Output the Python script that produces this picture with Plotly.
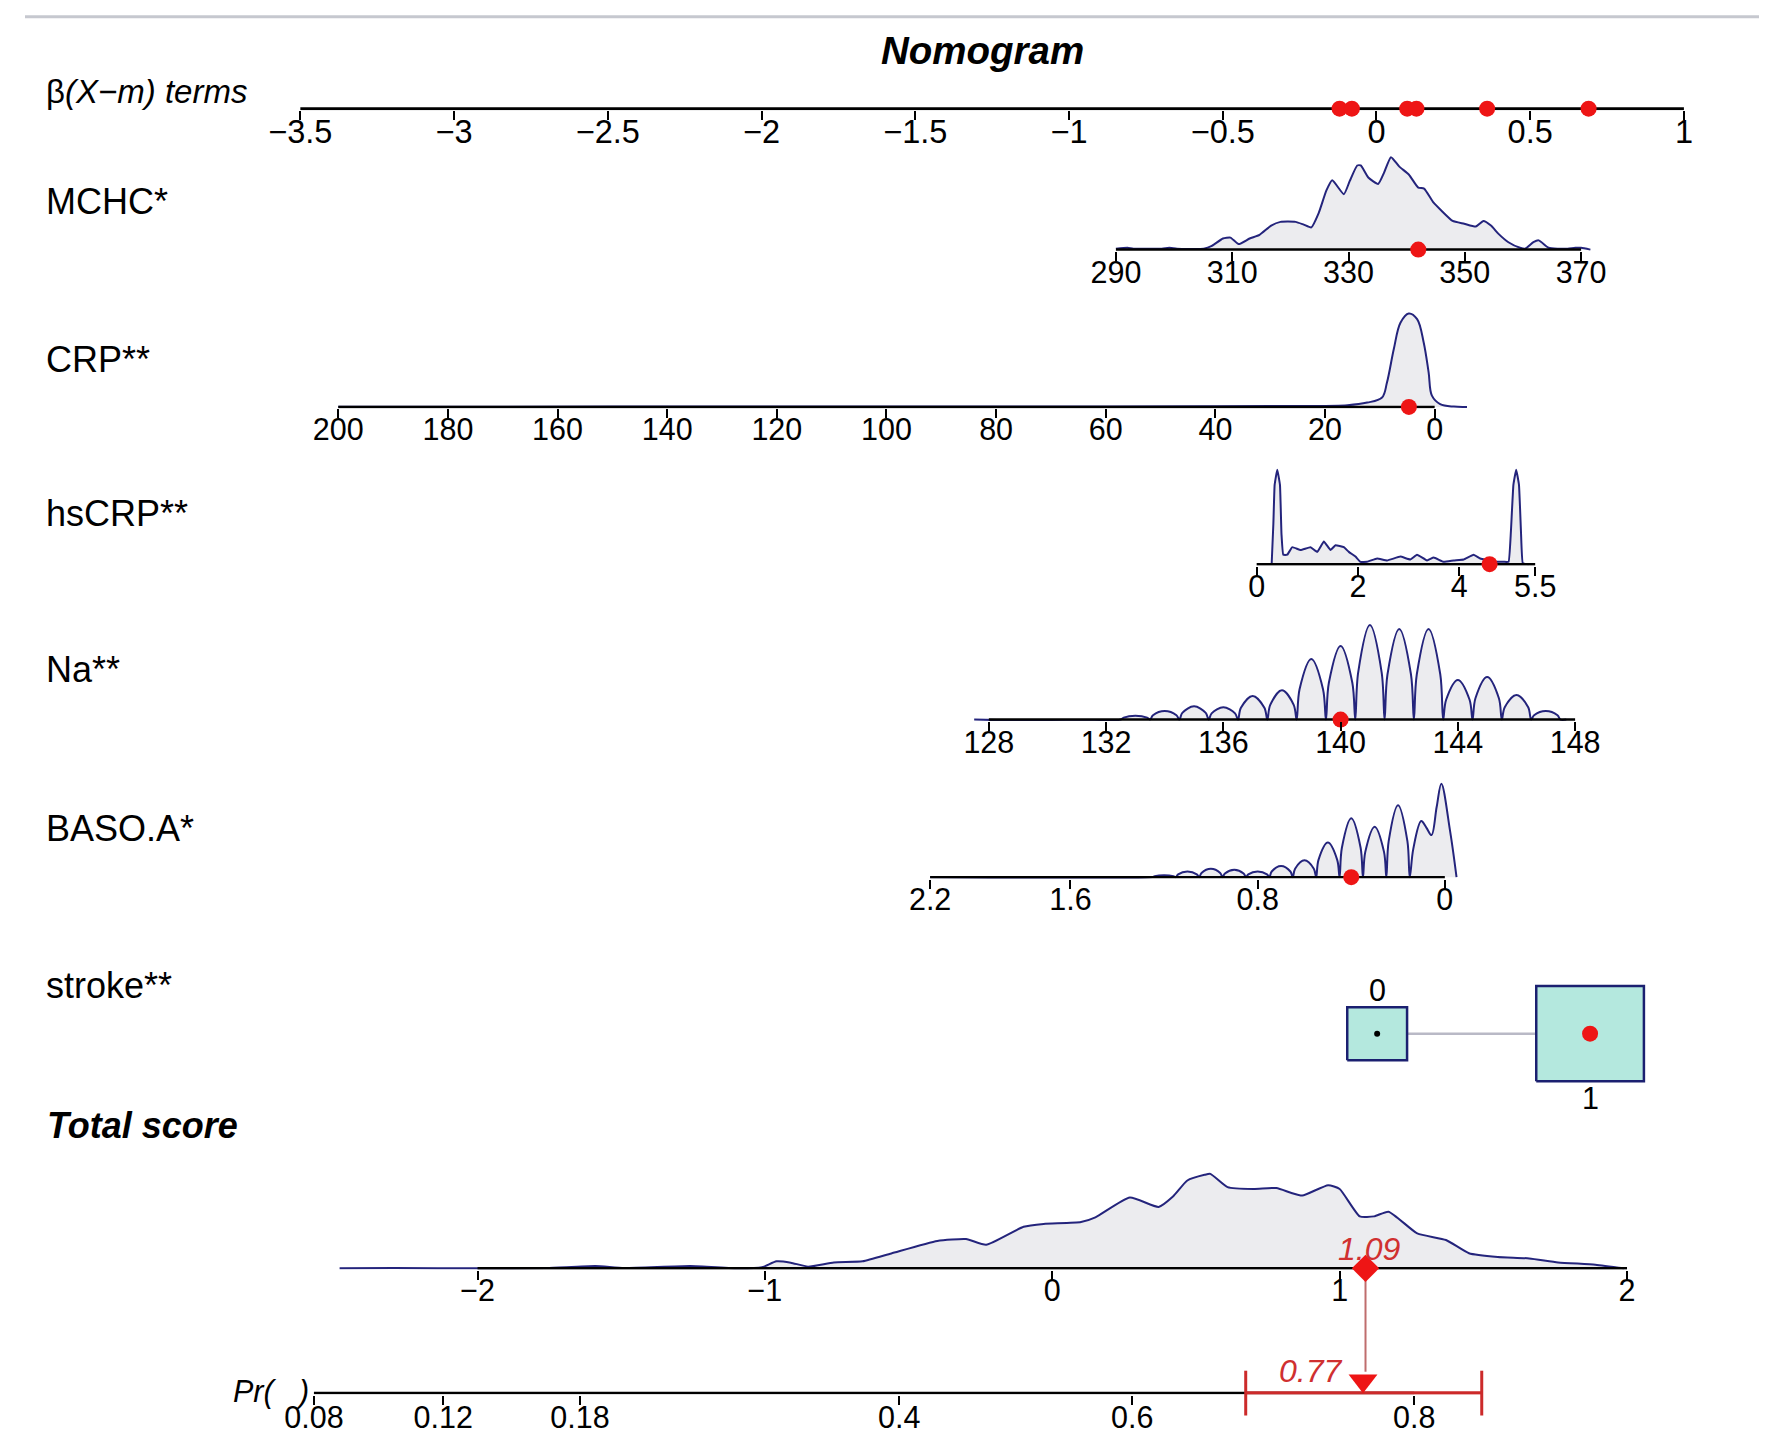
import math
import plotly.graph_objects as go

# ---------------- data ----------------
beta_ticks = [-3.5, -3, -2.5, -2, -1.5, -1, -0.5, 0, 0.5, 1]
beta_terms = [-0.12, -0.08, 0.10, 0.13, 0.36, 0.69]   # Na, BASO.A, CRP, MCHC, hsCRP, stroke

mchc_ticks = [290, 310, 330, 350, 370]
mchc_x = [290.0, 292.0, 293.0, 297.9, 299.2, 300.5, 305.1, 306.5, 308.4, 309.7, 311.1, 313.0,
          314.7, 316.7, 318.3, 320.9, 322.3, 323.6, 324.9, 326.2, 327.2, 329.2, 330.2, 331.5,
          332.1, 333.4, 335.1, 336.1, 337.3, 338.7, 340.4, 342.0, 343.0, 344.6, 346.0, 347.9,
          349.9, 351.9, 353.2, 354.5, 355.8, 357.5, 359.5, 360.4, 361.8, 362.7, 364.4, 366.0,
          367.7, 369.0, 370.0, 371.6]
mchc_d = [0.01, 0.02, 0.01, 0.01, 0.02, 0.01, 0.01, 0.04, 0.12, 0.13, 0.06, 0.12,
          0.16, 0.26, 0.30, 0.30, 0.27, 0.24, 0.40, 0.64, 0.75, 0.60, 0.74, 0.91,
          0.91, 0.78, 0.71, 0.83, 1.00, 0.90, 0.81, 0.67, 0.66, 0.51, 0.42, 0.31,
          0.28, 0.25, 0.31, 0.26, 0.17, 0.08, 0.02, 0.01, 0.08, 0.10, 0.02, 0.01,
          0.01, 0.02, 0.02, 0.0]
mchc_obs = 342

crp_ticks = [200, 180, 160, 140, 120, 100, 80, 60, 40, 20, 0]
crp_x = [200, 150, 100, 60, 40, 25, 15.9, 12.3, 9.6, 8.7, 7.45, 6.24, 4.73, 3.2, 2.0, 1.1,
         0.5, -1.0, -3.5, -5.9]
crp_d = [0.002, 0.003, 0.003, 0.004, 0.006, 0.01, 0.018, 0.046, 0.10, 0.26, 0.62, 0.90,
         1.0, 0.94, 0.69, 0.37, 0.12, 0.03, 0.003, 0.0]
crp_obs = 4.7

hscrp_ticks = [0, 2, 4, 5.5]
hscrp_x = [0.296, 0.33, 0.355, 0.407, 0.46, 0.49, 0.526, 0.604, 0.703, 0.867,
           1.064, 1.196, 1.327, 1.459, 1.557, 1.721, 1.82, 1.951, 2.05, 2.18,
           2.378, 2.576, 2.838, 3.035, 3.167, 3.364, 3.496, 3.693, 3.89, 4.087,
           4.284, 4.415, 4.678, 4.875, 4.974, 5.02, 5.07, 5.125, 5.18, 5.22,
           5.256, 5.368]
hscrp_d = [0.0, 0.43, 0.84, 1.0, 0.84, 0.32, 0.10, 0.10, 0.18, 0.15,
           0.18, 0.13, 0.24, 0.15, 0.20, 0.18, 0.13, 0.08, 0.025, 0.025,
           0.06, 0.04, 0.08, 0.05, 0.10, 0.04, 0.07, 0.025, 0.04, 0.05,
           0.10, 0.06, 0.025, 0.025, 0.025, 0.34, 0.84, 1.0, 0.84, 0.34,
           0.01, 0.0]
hscrp_obs = 4.6

na_ticks = [128, 132, 136, 140, 144, 148]
na_levels = [133, 134, 135, 136, 137, 138, 139, 140, 141, 142, 143, 144, 145, 146, 147]
na_peaks = [0.04, 0.09, 0.14, 0.13, 0.25, 0.31, 0.64, 0.78, 1.0, 0.96, 0.96, 0.42, 0.45, 0.26, 0.09]
na_obs = 140

baso_ticks = [2.2, 1.6, 0.8, 0]
baso_head_x = [-0.05, -0.022, 0.015, 0.035, 0.057, 0.079, 0.101, 0.135, 0.15]
baso_head_d = [0.0, 0.5, 1.0, 0.75, 0.45, 0.53, 0.60, 0.30, 0.0]
baso_levels = [0.2, 0.3, 0.4, 0.5, 0.6, 0.7, 0.8, 0.9, 1.0, 1.1, 1.2]
baso_peaks = [0.77, 0.54, 0.63, 0.37, 0.18, 0.12, 0.06, 0.08, 0.09, 0.06, 0.02]
baso_obs = 0.40

stroke_levels = [0, 1]
stroke_freq = [0.236, 0.764]
stroke_obs = 1

total_ticks = [-2, -1, 0, 1, 2]
total_x = [-2.48, -2.29, -1.99, -1.76, -1.59, -1.49, -1.26, -1.09, -1.01, -0.96,
           -0.91, -0.85, -0.76, -0.66, -0.56, -0.40, -0.30, -0.23, -0.10, -0.03,
           0.10, 0.15, 0.27, 0.37, 0.42, 0.47, 0.53, 0.55, 0.61, 0.70,
           0.78, 0.83, 0.87, 0.96, 1.00, 1.07, 1.12, 1.17, 1.27, 1.37,
           1.45, 1.55, 1.66, 1.76, 1.89, 1.99]
total_d = [0.0, 0.003, 0.0, 0.003, 0.024, 0.003, 0.024, 0.0, 0.011, 0.074,
           0.06, 0.018, 0.063, 0.074, 0.158, 0.29, 0.31, 0.25, 0.44, 0.47,
           0.49, 0.54, 0.75, 0.65, 0.76, 0.93, 0.99, 1.0, 0.86, 0.84,
           0.85, 0.80, 0.77, 0.88, 0.84, 0.55, 0.55, 0.60, 0.37, 0.30,
           0.16, 0.12, 0.105, 0.063, 0.039, 0.0]
total_score = 1.09

pr_ticks = [0.08, 0.12, 0.18, 0.4, 0.6, 0.8]
pr_labels = ["0.08", "0.12", "0.18", "0.4", "0.6", "0.8"]
pr_shift = 0.127          # logit(Pr) = total score + shift
pr_est = 0.77
pr_ci = [0.69, 0.835]

row_labels = ["MCHC*", "CRP**", "hsCRP**", "Na**", "BASO.A*", "stroke**"]

# ---------------- style / layout constants ----------------
FONT = "Liberation Sans, Arial, Helvetica, sans-serif"
LINE = "#24247c"
FILL = "rgb(236,236,239)"
RED = "#ee1515"
TRED = "#d03030"
W, H = 1768, 1426
OFF = 8
TICKFS = 30.5
SOFF = -15
# page-to-picture calibration
CX, SX = 14.3, 0.9825
CY, SY = -1.6, 0.9833


def clamp(v):
    return min(1.0, max(0.0, v))


def px_x(X):
    return ((X - CX) / SX - OFF) / W


def px_y(Y):
    return 1 - ((Y - CY) / SY - OFF) / H


def xdom(cal, rng):
    (v1, X1), (v2, X2) = cal
    f = lambda v: X1 + (v - v1) * (X2 - X1) / (v2 - v1)
    return [clamp(px_x(f(rng[0]))), clamp(px_x(f(rng[1])))]


def ydom(bottom, top):
    return [clamp(px_y(bottom)), clamp(px_y(top))]


def logit(p):
    return math.log(p / (1 - p))


fig = go.Figure()
layout = {}
annotations = []
shapes = []

AX = dict(showgrid=False, zeroline=False, showline=False, ticks="outside", ticklen=9,
          tickwidth=2, tickcolor="black", fixedrange=True)


def add_axes(i, cal, rng, yd, yrng, tickvals=None, ticktext=None, xvisible=True,
             fsize=TICKFS, standoff=SOFF):
    xa = dict(AX, domain=xdom(cal, rng), range=list(rng), anchor=f"y{i}", visible=xvisible,
              tickfont=dict(family=FONT, size=fsize, color="black"), ticklabelstandoff=standoff)
    if tickvals is not None:
        xa["tickmode"] = "array"
        xa["tickvals"] = tickvals
        if ticktext is not None:
            xa["ticktext"] = ticktext
    ya = dict(domain=yd, range=list(yrng), visible=False, fixedrange=True, anchor=f"x{i}")
    layout["xaxis" if i == 1 else f"xaxis{i}"] = xa
    layout["yaxis" if i == 1 else f"yaxis{i}"] = ya


def density_row(i, axis_y, peak, cal, rng, ticks, xs, ds, obs, shape="spline", smooth=0.6):
    add_axes(i, cal, rng, ydom(axis_y + 1.5, axis_y - 1.1 * peak),
             [-1.5 / peak, 1.1], tickvals=ticks)
    ref = dict(xaxis=f"x{i}", yaxis=f"y{i}")
    line = dict(color=LINE, width=2, shape=shape)
    if shape == "spline":
        line["smoothing"] = smooth
    fig.add_trace(go.Scatter(x=xs, y=ds, mode="lines", fill="tozeroy", fillcolor=FILL,
                             line=line, hoverinfo="skip", **ref))
    fig.add_trace(go.Scatter(x=[ticks[0], ticks[-1]], y=[0, 0], mode="lines",
                             line=dict(color="black", width=2.5), hoverinfo="skip", **ref))
    if obs is not None:
        fig.add_trace(go.Scatter(x=[obs], y=[0], mode="markers", cliponaxis=False,
                                 marker=dict(color=RED, size=16), hoverinfo="skip", **ref))


# ---- row 1: beta terms axis
add_axes(1, ((-3.5, 298), (1, 1684)), (-3.55, 1.05), ydom(109, 88), [-1.5, 19.5],
         tickvals=beta_ticks, fsize=32.5, standoff=-16)
fig.add_trace(go.Scatter(x=[beta_ticks[0], beta_ticks[-1]], y=[0, 0], mode="lines",
                         line=dict(color="black", width=3), xaxis="x", yaxis="y", hoverinfo="skip"))
fig.add_trace(go.Scatter(x=beta_terms, y=[0] * len(beta_terms), mode="markers", cliponaxis=False,
                         marker=dict(color=RED, size=16), xaxis="x", yaxis="y", hoverinfo="skip"))

# ---- density rows
density_row(2, 249.3, 93, ((290, 1115), (370, 1581)), (288, 374), mchc_ticks,
            mchc_x, mchc_d, mchc_obs, smooth=0.5)
density_row(3, 407.5, 94, ((200, 336), (0, 1434.3)), (203, -8), crp_ticks,
            crp_x, crp_d, crp_obs, smooth=1.0)
density_row(4, 565.7, 95, ((0, 1256), (5.5, 1535)), (-0.1, 5.6), hscrp_ticks,
            hscrp_x, hscrp_d, hscrp_obs, smooth=0.3)

na_x, na_y = [127.5], [0.0]
for k, p in zip(na_levels, na_peaks):
    na_x += [k - 0.5, k - 0.4, k, k + 0.4]
    na_y += [0.0, 0.5 * p, p, 0.5 * p]
na_x += [na_levels[-1] + 0.5, 147.7]
na_y += [0.0, 0.0]
density_row(5, 722, 95, ((128, 987.7), (148, 1575)), (127.2, 148.3), na_ticks,
            na_x, na_y, na_obs, smooth=1.0)

baso_x, baso_y = list(baso_head_x), list(baso_head_d)
for k, p in zip(baso_levels, baso_peaks):
    baso_x += [k - 0.04, k, k + 0.04, k + 0.05]
    baso_y += [0.5 * p, p, 0.5 * p, 0.0]
baso_x += [2.2]
baso_y += [0.0]
density_row(6, 880.5, 94, ((0, 1444.5), (1.6, 1069.5)), (2.25, -0.08), baso_ticks,
            baso_x, baso_y, baso_obs, smooth=1.0)

# ---- row 7: stroke (boxes sized by frequency)
s_cal = ((0, 1376.7), (1, 1590))
s_ppu = 1590 - 1376.7
add_axes(7, s_cal, (-0.4, 1.4), ydom(1038 + 70, 1038 - 70), [-70, 70], xvisible=False)
BOX_W, BOX_H = 61.7, 54.8
hw = [BOX_W * math.sqrt(f) / s_ppu for f in stroke_freq]
hh = [BOX_H * math.sqrt(f) for f in stroke_freq]
fig.add_trace(go.Scatter(x=[stroke_levels[0] + hw[0], stroke_levels[1] - hw[1]], y=[0, 0],
                         mode="lines", line=dict(color="#b9b9c6", width=2.5),
                         xaxis="x7", yaxis="y7", hoverinfo="skip"))
for lv, a, b in zip(stroke_levels, hw, hh):
    fig.add_trace(go.Scatter(x=[lv - a, lv + a, lv + a, lv - a, lv - a], y=[-b, -b, b, b, -b],
                             mode="lines", fill="toself", fillcolor="#b4e8de",
                             line=dict(color="#1b2070", width=2.5),
                             xaxis="x7", yaxis="y7", hoverinfo="skip"))
fig.add_trace(go.Scatter(x=[stroke_levels[0]], y=[0], mode="markers",
                         marker=dict(color="black", size=6), xaxis="x7", yaxis="y7", hoverinfo="skip"))
fig.add_trace(go.Scatter(x=[stroke_obs], y=[0], mode="markers", cliponaxis=False,
                         marker=dict(color=RED, size=16), xaxis="x7", yaxis="y7", hoverinfo="skip"))
annotations.append(dict(x=stroke_levels[0], y=hh[0] + 17, xref="x7", yref="y7", text="0",
                        showarrow=False, xanchor="center", yanchor="middle",
                        font=dict(family=FONT, size=TICKFS, color="black")))
annotations.append(dict(x=stroke_levels[1], y=-hh[1] - 17, xref="x7", yref="y7", text="1",
                        showarrow=False, xanchor="center", yanchor="middle",
                        font=dict(family=FONT, size=TICKFS, color="black")))

# ---- row 8: total score
t_cal = ((-2, 475.5), (2, 1627))
t_rng = (-2.65, 2.05)
density_row(8, 1274, 95, t_cal, t_rng, total_ticks, total_x, total_d, None, smooth=0.5)
fig.add_trace(go.Scatter(x=[total_score], y=[0], mode="markers", cliponaxis=False,
                         marker=dict(color=RED, size=21, symbol="diamond"),
                         xaxis="x8", yaxis="y8", hoverinfo="skip"))
annotations.append(dict(x=total_score, y=0, xref="x8", yref="y8", text=f"<i>{total_score:.2f}</i>",
                        showarrow=False, xanchor="center", yanchor="middle", yshift=19, xshift=3,
                        font=dict(family=FONT, size=32, color=TRED)))

# ---- row 9: probability axis (logit scale aligned to total score)
pr_vals = [logit(p) - pr_shift for p in pr_ticks]
add_axes(9, t_cal, t_rng, ydom(1399.5 + 1.5, 1399.5 - 40), [-1.5, 40],
         tickvals=pr_vals, ticktext=pr_labels, standoff=-13)
fig.add_trace(go.Scatter(x=[pr_vals[0], pr_vals[-1]], y=[0, 0], mode="lines",
                         line=dict(color="black", width=2.5), xaxis="x9", yaxis="y9", hoverinfo="skip"))
ci_x = [logit(p) - pr_shift for p in pr_ci]
fig.add_trace(go.Scatter(x=ci_x, y=[0, 0], mode="lines+markers", cliponaxis=False,
                         line=dict(color="#cc2a2a", width=3.5),
                         marker=dict(symbol="line-ns", size=32, line=dict(color="#cc2a2a", width=3)),
                         xaxis="x9", yaxis="y9", hoverinfo="skip"))
est_x = logit(pr_est) - pr_shift
fig.add_trace(go.Scatter(x=[est_x], y=[12.5], mode="markers", cliponaxis=False,
                         marker=dict(color=RED, size=25, symbol="triangle-down"),
                         xaxis="x9", yaxis="y9", hoverinfo="skip"))
annotations.append(dict(x=est_x, y=22, xref="x9", yref="y9", text=f"<i>{pr_est:.2f}</i>",
                        showarrow=False, xanchor="right", yanchor="middle", xshift=-19,
                        font=dict(family=FONT, size=32, color=TRED)))
shapes.append(dict(type="line", xref="x8", yref="paper", x0=total_score, x1=total_score,
                   y0=px_y(1280), y1=px_y(1378), layer="below",
                   line=dict(color="rgba(170,60,60,0.75)", width=2)))

# ---- texts
annotations.append(dict(x=px_x(981), y=px_y(49), xref="paper", yref="paper",
                        text="<b><i>Nomogram</i></b>", showarrow=False,
                        xanchor="center", yanchor="middle",
                        font=dict(family=FONT, size=38.5, color="black")))
annotations.append(dict(x=px_x(41), y=px_y(90), xref="paper", yref="paper",
                        text="β<i>(X−m) terms</i>", showarrow=False,
                        xanchor="left", yanchor="middle",
                        font=dict(family=FONT, size=33, color="black")))
for lab, yc in zip(row_labels, [201, 360, 515, 672, 832, 990]):
    annotations.append(dict(x=px_x(41), y=px_y(yc), xref="paper", yref="paper", text=lab,
                            showarrow=False, xanchor="left", yanchor="middle",
                            font=dict(family=FONT, size=36, color="black")))
annotations.append(dict(x=px_x(42), y=px_y(1130), xref="paper", yref="paper",
                        text="<b><i>Total score</i></b>", showarrow=False,
                        xanchor="left", yanchor="middle",
                        font=dict(family=FONT, size=36, color="black")))
annotations.append(dict(x=px_x(229), y=px_y(1398), xref="paper", yref="paper",
                        text="<i>Pr(\u00a0\u00a0\u00a0)</i>", showarrow=False,
                        xanchor="left", yanchor="middle",
                        font=dict(family=FONT, size=30.5, color="black")))

shapes.append(dict(type="line", xref="paper", yref="paper", x0=0, x1=1,
                   y0=px_y(15), y1=px_y(15), line=dict(color="#c6c8cf", width=3)))

fig.update_layout(**layout)
fig.update_layout(width=W, height=H, margin=dict(l=0, r=0, t=0, b=0, pad=0),
                  paper_bgcolor="white", plot_bgcolor="rgba(0,0,0,0)", showlegend=False,
                  annotations=annotations, shapes=shapes,
                  font=dict(family=FONT, color="black"))
fig.write_html("out.html")
